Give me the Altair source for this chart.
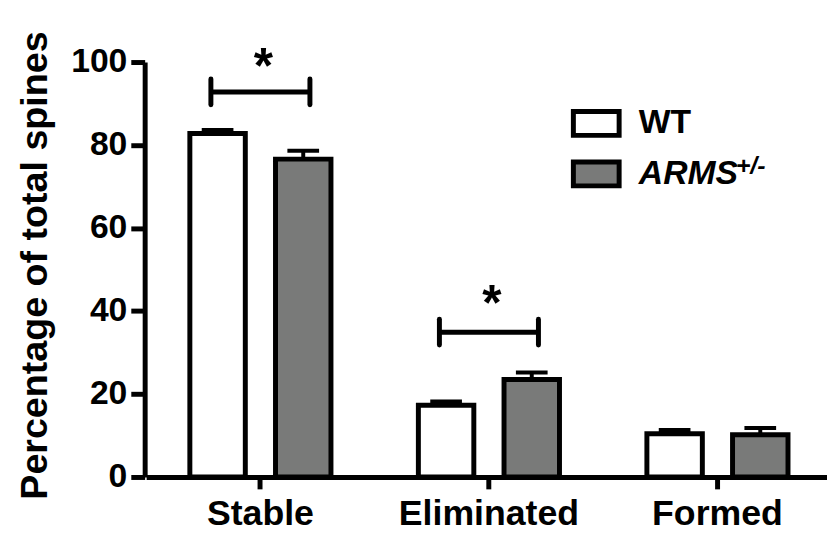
import altair as alt
import pandas as pd

categories = ["Stable", "Eliminated", "Formed"]
genotypes = ["WT", "ARMS"]
wt_mean = [82.8, 17.3, 10.4]
wt_sem = [0.8, 0.9, 0.9]
arms_mean = [76.6, 23.5, 10.2]
arms_sem = [2.0, 1.7, 1.6]
y_ticks = [0, 20, 40, 60, 80, 100]
sig_categories = ["Stable", "Eliminated"]
sig_bracket_y = [92.8, 34.9]
sig_bracket_half = [3.1, 3.1]
sig_star_y = [100.5, 43.3]
sig_mark = ["*", "*"]
superscript = ["+/-"]

FONT = "Liberation Sans"

rows = []
for i, c in enumerate(categories):
    rows.append({"cat": c, "geno": "WT", "mean": wt_mean[i], "top": wt_mean[i] + wt_sem[i]})
    rows.append({"cat": c, "geno": "ARMS", "mean": arms_mean[i], "top": arms_mean[i] + arms_sem[i]})
df = pd.DataFrame(rows)

sig = pd.DataFrame({
    "cat": sig_categories,
    "y": sig_bracket_y,
    "lo": [y - h for y, h in zip(sig_bracket_y, sig_bracket_half)],
    "hi": [y + h for y, h in zip(sig_bracket_y, sig_bracket_half)],
    "star": sig_star_y,
    "mark": sig_mark,
})
sup = pd.DataFrame({"t": superscript})

W, H = 689, 419

xscale = alt.Scale(domain=categories, range=[1.5, 693.75], paddingInner=0.3825, paddingOuter=0.19125)
yscale = alt.Scale(domain=[0, 100], nice=False, zero=True)
offscale = alt.Scale(domain=genotypes, paddingInner=0.3526, paddingOuter=0)

xaxis = alt.Axis(
    title=None, labelAngle=0, labelFontSize=36, labelFont=FONT, labelFontWeight="bold",
    labelColor="black", labelPadding=8, labelLimit=0, labelOverlap=False,
    domainWidth=5, domainColor="black",
    tickWidth=5, tickSize=12, tickColor="black", grid=False)
X = alt.X("cat:N", scale=xscale, sort=categories, axis=xaxis)
XO = alt.XOffset("geno:N", scale=offscale, sort=genotypes)

yaxis = alt.Axis(
    values=y_ticks, title="Percentage of total spines", titleFontSize=38, titleFont=FONT,
    titleFontWeight="bold", titleColor="black", titleX=-110, titleY=205, titleAngle=270,
    titleAlign="center", titleBaseline="middle", titleLimit=0,
    labelFontSize=34, labelFont=FONT, labelFontWeight="bold", labelColor="black",
    labelPadding=4, tickSize=14, tickWidth=5, tickColor="black",
    domainWidth=5, domainColor="black", grid=False)

legend = alt.Legend(
    title=None, orient="none", legendX=439, legendY=45,
    symbolType="M-1.65,-0.86H1.65V0.86H-1.65Z", symbolSize=784,
    symbolStrokeColor="black", symbolStrokeWidth=5, symbolOpacity=1,
    labelFontSize=34, labelFont=FONT, labelFontWeight="bold", labelColor="black",
    labelFontStyle=alt.ExprRef("datum.value === 'WT' ? 'normal' : 'italic'"),
    labelOffset=26, labelLimit=0, rowPadding=5, padding=0)

bars = alt.Chart(df).mark_bar(stroke="black", strokeWidth=5, opacity=1).encode(
    x=X, xOffset=XO,
    y=alt.Y("mean:Q", scale=yscale, axis=yaxis),
    fill=alt.Fill("geno:N", scale=alt.Scale(domain=genotypes, range=["white", "#797a79"]), legend=legend),
)

err = alt.Chart(df).mark_rule(color="black", strokeWidth=4).encode(
    x=X, xOffset=XO, y=alt.Y("mean:Q", scale=yscale, axis=yaxis), y2="top:Q")
caps = alt.Chart(df).mark_tick(color="black", thickness=4, size=32, opacity=1).encode(
    x=X, xOffset=XO, y=alt.Y("top:Q", scale=yscale, axis=yaxis))

bracket_h = alt.Chart(sig).mark_tick(color="black", thickness=5, size=100, opacity=1).encode(
    x=X, y=alt.Y("y:Q", scale=yscale, axis=yaxis))
bracket_l = alt.Chart(sig).mark_rule(color="black", strokeWidth=5, strokeCap="round", xOffset=-50).encode(
    x=X, y=alt.Y("lo:Q", scale=yscale, axis=yaxis), y2="hi:Q")
bracket_r = alt.Chart(sig).mark_rule(color="black", strokeWidth=5, strokeCap="round", xOffset=50).encode(
    x=X, y=alt.Y("lo:Q", scale=yscale, axis=yaxis), y2="hi:Q")
stars = alt.Chart(sig).mark_text(font=FONT, fontSize=50, fontWeight="bold", color="black",
                                 baseline="middle", dy=8, dx=3).encode(
    x=X, y=alt.Y("star:Q", scale=yscale, axis=yaxis), text="mark:N")

sup_text = alt.Chart(sup).mark_text(font=FONT, fontSize=25, fontWeight="bold", fontStyle="italic",
                                    color="black", align="left", baseline="middle").encode(
    x=alt.value(597), y=alt.value(105), text="t:N")

chart = alt.layer(bars, err, caps, bracket_h, bracket_l, bracket_r, stars, sup_text).properties(
    width=W, height=H,
    autosize=alt.AutoSizeParams(type="none"),
    padding={"left": 138, "top": 52, "right": 0, "bottom": 54},
    background="white",
).configure_view(strokeWidth=0)

chart.save("out.html", embed_options={"renderer": "svg", "actions": False})
